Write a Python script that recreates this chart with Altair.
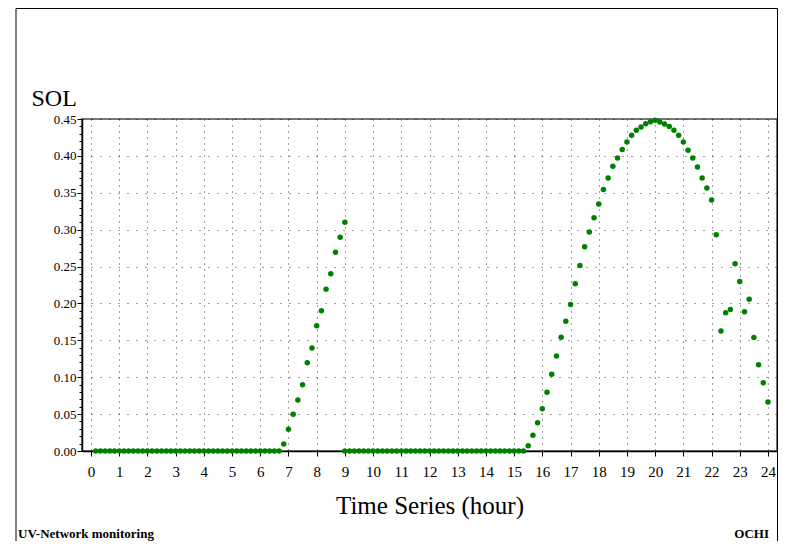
import altair as alt
import pandas as pd

# sampling: every 10 minutes (hours)
zero_morning_start, zero_morning_end = 1, 40      # 10-min slot indices
zero_midday_start, zero_midday_end = 54, 92

morning_times = [6.833, 7.0, 7.167, 7.333, 7.5, 7.667, 7.833, 8.0, 8.167, 8.333, 8.5, 8.667, 8.833, 9.0]
morning_vals = [0.0095, 0.0294, 0.0497, 0.069, 0.0898, 0.1196, 0.1395, 0.1697, 0.19, 0.2194,
                0.2401, 0.2695, 0.2898, 0.3101]

afternoon_start_slot = 93
afternoon_vals = [0.0072, 0.0213, 0.0383, 0.0573, 0.0796, 0.1039, 0.1289, 0.1542, 0.176, 0.1987,
                  0.2266, 0.2515, 0.2767, 0.2969, 0.3162, 0.3348, 0.3544, 0.3701, 0.386, 0.3972,
                  0.4086, 0.4189, 0.428, 0.4347, 0.4392, 0.4435, 0.4462, 0.4483,
                  0.446, 0.4433, 0.440, 0.4347, 0.428, 0.4189, 0.4076, 0.3972, 0.385, 0.370,
                  0.3566, 0.3403, 0.2932, 0.1625, 0.1873, 0.1919, 0.2537, 0.2298, 0.1887, 0.2058,
                  0.154, 0.1169, 0.0925, 0.0664]

x_ticks = list(range(0, 25))
y_ticks = [0.0, 0.05, 0.10, 0.15, 0.20, 0.25, 0.30, 0.35, 0.40, 0.45]
y_minor = [0.01, 0.02, 0.03, 0.04, 0.06, 0.07, 0.08, 0.09, 0.11, 0.12, 0.13, 0.14,
           0.16, 0.17, 0.18, 0.19, 0.21, 0.22, 0.23, 0.24, 0.26, 0.27, 0.28, 0.29,
           0.31, 0.32, 0.33, 0.34, 0.36, 0.37, 0.38, 0.39, 0.41, 0.42, 0.43, 0.44]

t, v = [], []
for k in range(zero_morning_start, zero_morning_end + 1):
    t.append(k / 6); v.append(0.0)
t += morning_times; v += morning_vals
for k in range(zero_midday_start, zero_midday_end + 1):
    t.append(k / 6); v.append(0.0)
for i, val in enumerate(afternoon_vals):
    t.append((afternoon_start_slot + i) / 6); v.append(val)

df = pd.DataFrame({"t": t, "v": v})

FONT = "Liberation Serif"

xscale = alt.Scale(domain=[-0.32, 24.32], nice=False, zero=False)
yscale = alt.Scale(domain=[0, 0.45], nice=False, zero=False)

points = alt.Chart(df).mark_circle(size=30, color="#008000", opacity=1).encode(
    x=alt.X("t:Q", scale=xscale, axis=alt.Axis(
        orient="bottom", values=x_ticks, format="d", title="Time Series (hour)",
        titleFont=FONT, titleFontSize=25, titleFontWeight="normal", titleColor="black",
        titleX=347.5, titleY=62, titleAlign="center", titleBaseline="alphabetic",
        labelFont=FONT, labelFontSize=15, labelColor="black", labelBaseline="alphabetic",
        labelPadding=20, tickSize=5, tickColor="black", domainColor="black", domainWidth=1.5,
        grid=True, gridColor="black", gridOpacity=0.75, gridDash=[1, 5], labelFlush=False)),
    y=alt.Y("v:Q", scale=yscale, axis=alt.Axis(
        orient="left", values=y_ticks, format=".2f", title="SOL",
        titleFont=FONT, titleFontSize=24, titleFontWeight="normal", titleColor="black",
        titleAngle=0, titleX=-51, titleY=-14, titleAlign="left", titleBaseline="alphabetic",
        labelFont=FONT, labelFontSize=13, labelColor="black", labelPadding=1,
        tickSize=5, tickColor="black", domainColor="black", domainWidth=1.5,
        grid=True, gridColor="black", gridOpacity=0.75, gridDash=[1, 8], labelFlush=False)),
)

minor = alt.Chart(pd.DataFrame({"m": y_minor})).mark_circle(opacity=0).encode(
    y=alt.Y("m:Q", scale=yscale, axis=alt.Axis(
        orient="left", values=y_minor, labels=False, domain=False, grid=False,
        tickSize=3, tickColor="black", title=None)),
)

frame = alt.Chart(alt.Data(values=[{"a": 1}])).mark_rect(
    fillOpacity=0, stroke="black", strokeWidth=1).encode(
    x=alt.value(-66), x2=alt.value(695.5), y=alt.value(-110.5), y2=alt.value(470))

left_note = alt.Chart(alt.Data(values=[{"a": 1}])).mark_text(
    text="UV-Network monitoring", align="left", baseline="alphabetic",
    font=FONT, fontSize=13, fontWeight="bold", color="black").encode(
    x=alt.value(-64), y=alt.value(419))

right_note = alt.Chart(alt.Data(values=[{"a": 1}])).mark_text(
    text="OCHI", align="right", baseline="alphabetic",
    font=FONT, fontSize=13, fontWeight="bold", color="black").encode(
    x=alt.value(687), y=alt.value(419))

chart = alt.layer(frame, points, minor, left_note, right_note).resolve_axis(
    y="independent").properties(
    width=695, height=332,
    autosize=alt.AutoSizeParams(type="none"),
    padding={"left": 74, "top": 111, "right": 1, "bottom": 90},
    background="white",
).configure_view(stroke="#777777", strokeWidth=2)

chart.save("out.html", embed_options={"renderer": "svg", "actions": False})
